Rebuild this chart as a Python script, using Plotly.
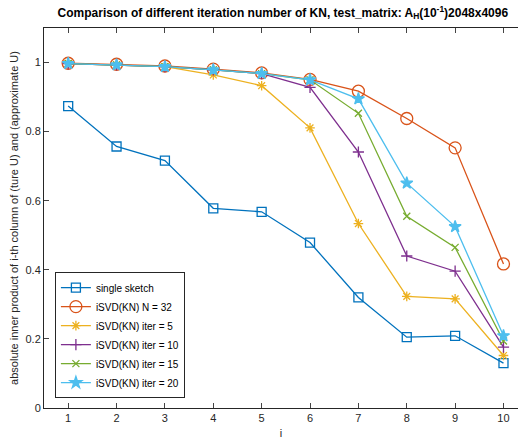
import plotly.graph_objects as go

i_vals = [1, 2, 3, 4, 5, 6, 7, 8, 9, 10]
single_sketch = [0.874, 0.757, 0.716, 0.578, 0.568, 0.479, 0.320, 0.205, 0.209, 0.130]
n32 = [0.998, 0.995, 0.990, 0.981, 0.970, 0.951, 0.917, 0.838, 0.753, 0.417]
iter5 = [0.997, 0.993, 0.988, 0.964, 0.933, 0.811, 0.534, 0.323, 0.316, 0.152]
iter10 = [0.997, 0.993, 0.988, 0.979, 0.968, 0.928, 0.741, 0.440, 0.396, 0.176]
iter15 = [0.997, 0.993, 0.988, 0.979, 0.968, 0.950, 0.853, 0.555, 0.465, 0.194]
iter20 = [0.997, 0.993, 0.988, 0.979, 0.968, 0.950, 0.895, 0.651, 0.525, 0.209]

series = [
    ("single sketch", single_sketch, "#0072BD", "square-open", 9),
    ("iSVD(KN) N = 32", n32, "#D95319", "circle-open", 12),
    ("iSVD(KN) iter = 5", iter5, "#EDB120", "asterisk-open", 8),
    ("iSVD(KN) iter = 10", iter10, "#7E2F8E", "cross-thin-open", 8),
    ("iSVD(KN) iter = 15", iter15, "#77AC30", "x-thin-open", 7),
    ("iSVD(KN) iter = 20", iter20, "#4DBEEE", "star", 9),
]

fig = go.Figure()
for name, ys, color, sym, sz in series:
    fig.add_trace(go.Scatter(
        x=i_vals, y=ys, name=name, mode="lines+markers",
        line=dict(color=color, width=1.3),
        marker=dict(symbol=sym, size=sz, color=color,
                    line=dict(color=color, width=1.3)),
    ))

axis_font = dict(family="Liberation Sans, Arial, sans-serif", size=11, color="#262626")
fig.update_layout(
    width=519, height=441,
    margin=dict(l=44, r=1, t=28, b=33),
    paper_bgcolor="white", plot_bgcolor="white",
    font=axis_font,
    title=dict(
        text="<b>Comparison of different iteration number of KN, test_matrix: A<sub>H</sub>(10<sup>-1</sup>)2048x4096</b>",
        x=0.545, xanchor="center", y=0.972, yanchor="middle",
        font=dict(family="Liberation Sans, Arial, sans-serif", size=12, color="black"),
    ),
    xaxis=dict(
        range=[0.5, 10.3], tickvals=i_vals, ticks="inside", ticklen=5,
        showline=True, linecolor="#262626", linewidth=1, mirror="ticks",
        showgrid=False, zeroline=False, tickfont=axis_font,
        title=dict(text="i", font=dict(family="Liberation Sans, Arial, sans-serif",
                                        size=11, color="#262626"), standoff=6),
    ),
    yaxis=dict(
        range=[0, 1.1], tickvals=[0, 0.2, 0.4, 0.6, 0.8, 1],
        ticktext=["0", "0.2", "0.4", "0.6", "0.8", "1"],
        ticks="inside", ticklen=5,
        showline=True, linecolor="#262626", linewidth=1,
        showgrid=False, zeroline=False, tickfont=axis_font,
        title=dict(text="absolute inner product of i-th column of (ture U) and (approximate U)",
                   font=axis_font, standoff=4),
    ),
    legend=dict(
        x=0.023, y=0.026, xanchor="left", yanchor="bottom",
        bgcolor="white", bordercolor="#262626", borderwidth=1,
        font=dict(family="Liberation Sans, Arial, sans-serif", size=10, color="black"),
        tracegroupgap=0, itemwidth=30,
    ),
)

fig.write_html("out.html")
